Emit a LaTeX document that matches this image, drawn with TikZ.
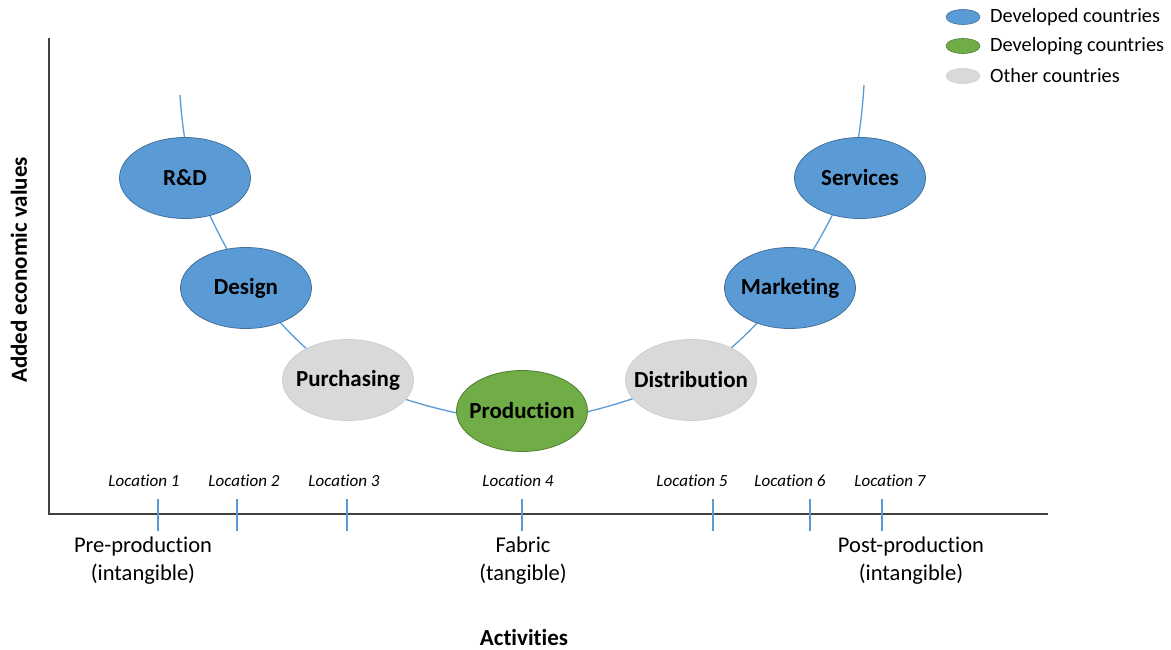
\documentclass[tikz,border=0pt]{standalone}
\usepackage{fontspec}
\setmainfont{Carlito}[Ligatures={NoCommon}]
\usetikzlibrary{shapes.geometric,backgrounds}

\definecolor{devblue}{HTML}{5B9BD5}
\definecolor{devblueline}{HTML}{41719C}
\definecolor{devgreen}{HTML}{70AD47}
\definecolor{devgreenline}{HTML}{507E32}
\definecolor{othergray}{HTML}{D9D9D9}
\definecolor{othergrayline}{HTML}{CFCFCF}
\definecolor{axisgray}{HTML}{404040}

\tikzset{
  stage/.style={ellipse, minimum width=131pt, minimum height=81pt, inner sep=0pt,
                line width=0.8pt,
                label={[font=\fontsize{23}{27}\selectfont\bfseries, inner sep=0pt]center:#1}},
  developed/.style={stage=#1, fill=devblue, draw=devblueline},
  developing/.style={stage=#1, fill=devgreen, draw=devgreenline},
  other/.style={stage=#1, fill=othergray, draw=othergrayline},
  curve/.style={draw=devblue, line width=1.3pt},
  axis/.style={draw=axisgray, line width=1.6pt},
  tick/.style={draw=devblue, line width=1.3pt},
  loclabel/.style={font=\fontsize{17}{20}\selectfont\itshape, inner sep=0pt},
  phase/.style={font=\fontsize{22.5}{28}\selectfont, align=center, inner sep=0pt},
  axislabel/.style={font=\fontsize{23}{27}\selectfont\bfseries, inner sep=0pt},
  legendmark/.style={ellipse, minimum width=34pt, minimum height=15pt, inner sep=0pt, line width=0.6pt},
  legendtext/.style={font=\fontsize{20.3}{24}\selectfont, anchor=west, inner sep=0pt},
}

\begin{document}
\begin{tikzpicture}[x=1pt, y=-1pt]
\useasboundingbox (0,0) rectangle (1171,650);

% Activity stages along the value curve
\node[developed={R\&D}]       (rd)     at (185,178) {};
\node[developed={Design}]     (design) at (246,288) {};
\node[other={Purchasing}]     (purch)  at (348,380) {};
\node[developing={Production}] (prod)  at (522,411) {};
\node[other={Distribution}]   (dist)   at (691,380) {};
\node[developed={Marketing}]  (mkt)    at (790,288) {};
\node[developed={Services}]   (serv)   at (860,178) {};

% Points the smile curve runs through (hidden behind the stages)
\coordinate (lefttop)  at (180,95);
\coordinate (c1) at (194,178);
\coordinate (c2) at (252,288);
\coordinate (c3) at (348,377);
\coordinate (c4) at (522,421);
\coordinate (c5) at (691,375);
\coordinate (c6) at (787,288);
\coordinate (c7) at (849,178);
\coordinate (righttop) at (864,85);

\begin{scope}[on background layer]
  \draw[curve] plot[smooth, tension=0.55] coordinates
    {(lefttop) (c1) (c2) (c3) (c4) (c5) (c6) (c7) (righttop)};
\end{scope}

% Axes
\coordinate (ytop)   at (49,38);
\coordinate (origin) at (49,514);
\coordinate (xend)   at (1048,514);
\draw[axis] (ytop) -- (origin) -- (xend);

% Location ticks and labels
\foreach \tx in {158,237,347,522,713,810,882}
  \draw[tick] (\tx,499) -- (\tx,531);
\node[loclabel] (loc1) at (144,481) {Location 1};
\node[loclabel] (loc2) at (244,481) {Location 2};
\node[loclabel] (loc3) at (344,481) {Location 3};
\node[loclabel] (loc4) at (518,481) {Location 4};
\node[loclabel] (loc5) at (692,481) {Location 5};
\node[loclabel] (loc6) at (790,481) {Location 6};
\node[loclabel] (loc7) at (890,481) {Location 7};

% Phases below the axis
\node[phase] (pre)  at (143,561) {Pre-production\\(intangible)};
\node[phase] (fab)  at (523,561) {Fabric\\(tangible)};
\node[phase] (post) at (911,561) {Post-production\\(intangible)};

% Axis titles
\node[axislabel] (xtitle) at (524,638) {Activities};
\node[axislabel, rotate=90] (ytitle) at (19,270) {Added economic values};

% Legend
\node[legendmark, fill=devblue, draw=devblueline]   (lg1) at (963,17) {};
\node[legendmark, fill=devgreen, draw=devgreenline] (lg2) at (963,46) {};
\node[legendmark, fill=othergray, draw=othergrayline] (lg3) at (963,76) {};
\node[legendtext] (lt1) at (990,17) {Developed countries};
\node[legendtext] (lt2) at (990,46) {Developing countries};
\node[legendtext] (lt3) at (990,76) {Other countries};
\end{tikzpicture}
\end{document}
